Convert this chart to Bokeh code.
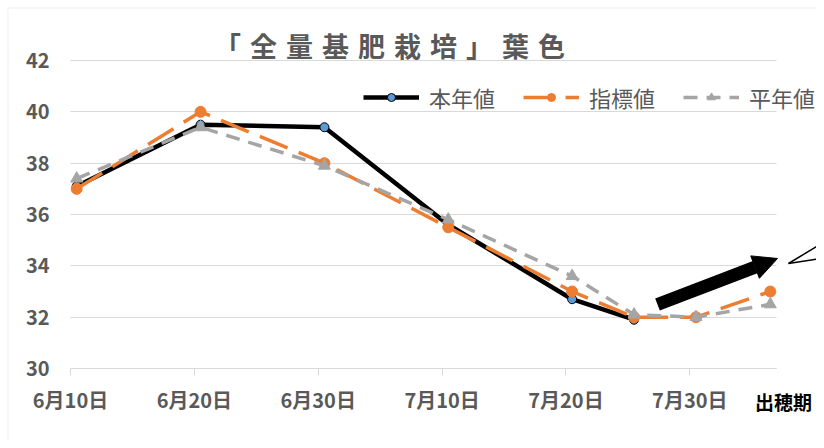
import pandas as pd
from bokeh.plotting import figure
from bokeh.models import (FixedTicker, Legend, LegendItem, Label, Arrow,
                          NormalHead, ColumnDataSource, Range1d, BoxAnnotation)
from bokeh.embed import file_html
from bokeh.resources import INLINE

# ---------------- data ----------------
title_text = "「全量基肥栽培」葉色"
series_names = ["本年値", "指標値", "平年値"]
dates = ["2020-06-10", "2020-06-20", "2020-06-30", "2020-07-10",
         "2020-07-20", "2020-07-25", "2020-07-30", "2020-08-05"]
honnen = [37.1, 39.5, 39.4, 35.6, 32.7, 31.9]
shihyo = [37.0, 40.0, 38.0, 35.5, 33.0, 32.0, 32.0, 33.0]
heinen = [37.4, 39.4, 37.9, 35.8, 33.6, 32.1, 32.0, 32.5]
tick_dates = ["2020-06-10", "2020-06-20", "2020-06-30",
              "2020-07-10", "2020-07-20", "2020-07-30"]
tick_labels = ["6月10日", "6月20日", "6月30日", "7月10日", "7月20日", "7月30日"]
axis_end_date = "2020-08-06"
heading_label = "出穂期"
y_ticks = [30, 32, 34, 36, 38, 40, 42]

FONT = "Noto Sans CJK JP"
GRAY_TXT = "#595959"
GRID = "#d9d9d9"

start = pd.Timestamp(dates[0])


def day(d):
    return (pd.Timestamp(d) - start).days


# Excel date axis: points sit in the middle of their day
x_all = [day(d) + 0.5 for d in dates]
x_end = day(axis_end_date)
y_lo, y_hi = y_ticks[0], y_ticks[-1]

# ---------------- layout (pixels) ----------------
W, H = 816, 440
PX_L, PX_R, PY_T, PY_B = 70, 776, 60, 368
sx = (PX_R - PX_L) / (x_end - 0)
sy = (PY_B - PY_T) / (y_hi - y_lo)


def px2x(px):
    return (px - PX_L) / sx


def px2y(py):
    return y_lo + (PY_B - py) / sy


p = figure(width=W, height=H, output_backend="svg", toolbar_location=None,
           x_range=Range1d(px2x(0), px2x(W)), y_range=Range1d(px2y(H), px2y(0)),
           min_border=0, min_border_left=0, min_border_right=0,
           min_border_top=0, min_border_bottom=0)
p.outline_line_color = None
p.background_fill_color = "white"
p.border_fill_color = "white"

# axes
xt = FixedTicker(ticks=[day(d) for d in tick_dates])
p.xaxis.fixed_location = y_lo
p.xaxis.bounds = (0, x_end)
p.xaxis.ticker = xt
p.xaxis.major_label_overrides = {day(d): lab for d, lab in zip(tick_dates, tick_labels)}
p.xaxis.axis_line_color = GRID
p.xaxis.axis_line_width = 1
p.xaxis.major_tick_line_color = GRID
p.xaxis.major_tick_out = 7
p.xaxis.major_tick_in = 0
p.xaxis.minor_tick_line_color = None
p.xaxis.major_label_standoff = 9
p.xaxis.major_label_text_font = FONT
p.xaxis.major_label_text_font_style = "bold"
p.xaxis.major_label_text_font_size = "20px"
p.xaxis.major_label_text_color = GRAY_TXT

yt = FixedTicker(ticks=y_ticks)
p.yaxis.fixed_location = 0
p.yaxis.bounds = (y_lo, y_hi)
p.yaxis.ticker = yt
p.yaxis.axis_line_color = None
p.yaxis.major_tick_line_color = None
p.yaxis.minor_tick_line_color = None
p.yaxis.major_tick_out = 0
p.yaxis.major_label_standoff = 21
p.yaxis.major_label_text_font = FONT
p.yaxis.major_label_text_font_style = "bold"
p.yaxis.major_label_text_font_size = "20px"
p.yaxis.major_label_text_color = GRAY_TXT

p.xgrid.grid_line_color = None
p.ygrid.ticker = yt
p.ygrid.cross_bounds = (0, x_end)
p.ygrid.grid_line_color = GRID
p.ygrid.grid_line_width = 1

# outer chart-area border (only top/left are inside the window)
p.add_layout(BoxAnnotation(left=px2x(7.5), top=px2y(7.5), right=px2x(W + 20),
                           bottom=px2y(H + 20), fill_alpha=0,
                           line_color=GRID, line_width=1.5))

# series
src1 = ColumnDataSource(dict(x=x_all[:len(honnen)], y=honnen))
src2 = ColumnDataSource(dict(x=x_all[:len(shihyo)], y=shihyo))
src3 = ColumnDataSource(dict(x=x_all[:len(heinen)], y=heinen))

l1 = p.line("x", "y", source=src1, line_color="black", line_width=4.5, line_join="round")
s1 = p.scatter("x", "y", source=src1, marker="circle", size=9,
               fill_color="#5b9bd5", line_color="black", line_width=1)
l2 = p.line("x", "y", source=src2, line_color="#ed7d31", line_width=3.5,
            line_dash="30 12", line_join="round")
s2 = p.scatter("x", "y", source=src2, marker="circle", size=11,
               fill_color="#ed7d31", line_color="#ed7d31")
l3 = p.line("x", "y", source=src3, line_color="#a5a5a5", line_width=3.5,
            line_dash="14 9", line_join="round")
s3 = p.scatter("x", "y", source=src3, marker="triangle", size=12,
               fill_color="#a5a5a5", line_color="#a5a5a5")

legend = Legend(items=[LegendItem(label=series_names[0], renderers=[l1, s1]),
                       LegendItem(label=series_names[1], renderers=[l2, s2]),
                       LegendItem(label=series_names[2], renderers=[l3, s3])],
                orientation="horizontal", location=(363, H - 113),
                glyph_width=56, glyph_height=20, label_height=20,
                label_standoff=10, spacing=28, padding=0, margin=0,
                border_line_color=None, background_fill_alpha=0,
                label_text_font=FONT, label_text_font_size="22px",
                label_text_color=GRAY_TXT)
p.add_layout(legend)

# title
sp = "\u2004"
p.add_layout(Label(x=px2x(389), y=px2y(45), text=sp.join(title_text), text_align="center",
                   text_baseline="middle", text_font=FONT, text_font_size="27px",
                   text_font_style="bold", text_color=GRAY_TXT))

# heading-date label under the axis end
p.add_layout(Label(x=px2x(783), y=px2y(401), text=heading_label, text_align="center",
                   text_baseline="middle", text_font=FONT, text_font_size="19px",
                   text_font_style="bold", text_color="black"))

# arrow
p.add_layout(Arrow(x_start=px2x(657), y_start=px2y(304), x_end=px2x(777), y_end=px2y(258),
                   line_color="black", line_width=13,
                   end=NormalHead(size=24, fill_color="black", line_color="black")))
# callout lines (cut off at the right)
p.add_layout(Arrow(x_start=px2x(788), y_start=px2y(263), x_end=px2x(W + 10), y_end=px2y(240),
                   line_color="black", line_width=1.5, end=None))
p.add_layout(Arrow(x_start=px2x(788), y_start=px2y(263), x_end=px2x(W + 10), y_end=px2y(257),
                   line_color="black", line_width=1.5, end=None))

open("out.html", "w").write(file_html(p, INLINE))
